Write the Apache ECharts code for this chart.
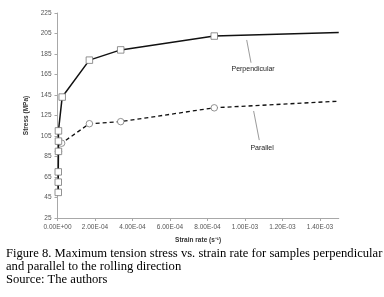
<!DOCTYPE html>
<html><head><meta charset="utf-8">
<script src="https://cdn.jsdelivr.net/npm/echarts@6/dist/echarts.min.js"></script>
<style>html,body{margin:0;padding:0;background:#fff}#c{width:384px;height:297px}</style>
</head><body><div id="c"></div>
<script>
// Data
const perpX = [0.000004, 0.000004, 0.000004, 0.000005, 0.000005, 0.000005, 0.000025, 0.000170, 0.000337, 0.000836, 0.0015];
const perpY = [50, 60, 70, 90, 100, 110, 143, 179, 189, 202.5, 206];
const perpMarked = [true, true, true, true, true, true, true, true, true, true, false];
const paraX = [0.000005, 0.000022, 0.000170, 0.000337, 0.000836, 0.0015];
const paraY = [90, 98, 117, 119, 132.5, 139];
const paraMarked = [true, true, true, true, true, false];
const yTicks = {min: 25, max: 225, interval: 20};
const xTicks = {min: 0, max: 0.0015, interval: 0.0002};
const labelPerp = {text: 'Perpendicular', at: [0.001043, 170.4], tail: [0.001032, 176.5], tip: [0.001009, 198.7]};
const labelPara = {text: 'Parallel', at: [0.001091, 93.3], tail: [0.001076, 101], tip: [0.001046, 129.4]};
const captionLines = ['Figure 8. Maximum tension stress vs. strain rate for samples perpendicular', 'and parallel to the rolling direction', 'Source: The authors'];

function fmtE(v) {
  let s = Number(v).toExponential(2).toUpperCase();
  let m = s.match(/^(.*)E([+-])(\d+)$/);
  if (!m) return s;
  return m[1] + 'E' + m[2] + (m[3].length < 2 ? '0' + m[3] : m[3]);
}
function mk(xs, ys, flags) {
  return xs.map((x, i) => ({value: [x, ys[i]], symbolSize: flags[i] ? 6.5 : 0}));
}
const chart = echarts.init(document.getElementById('c'), null, {renderer: 'canvas'});
const lblFont = {fontFamily: 'Liberation Sans', fontSize: 6.5, color: '#555'};
chart.setOption({
  animation: false,
  grid: {left: 57.5, right: 45.25, top: 13, bottom: 79, containLabel: false},
  xAxis: {
    type: 'value', min: xTicks.min, max: xTicks.max, interval: xTicks.interval,
    name: 'Strain rate (s\u207B\u00B9)', nameLocation: 'middle', nameGap: 19,
    nameTextStyle: {fontFamily: 'Liberation Sans', fontSize: 6.5, color: '#333', fontWeight: 'bold'},
    axisLine: {lineStyle: {color: '#a8a8a8', width: 1}},
    axisTick: {show: true, length: 3, lineStyle: {color: '#a8a8a8'}},
    axisLabel: Object.assign({formatter: fmtE, margin: 6}, lblFont),
    splitLine: {show: false}
  },
  yAxis: {
    type: 'value', min: yTicks.min, max: yTicks.max, interval: yTicks.interval,
    name: 'Stress (MPa)', nameLocation: 'middle', nameGap: 18, nameRotate: 90,
    nameTextStyle: {fontFamily: 'Liberation Sans', fontSize: 6.5, color: '#333', fontWeight: 'bold'},
    axisLine: {show: true, lineStyle: {color: '#a8a8a8', width: 1}},
    axisTick: {show: true, length: 3, lineStyle: {color: '#a8a8a8'}},
    axisLabel: Object.assign({margin: 6}, lblFont),
    splitLine: {show: false}
  },
  series: [
    {
      type: 'line', data: mk(perpX, perpY, perpMarked), symbol: 'rect', showAllSymbol: true,
      lineStyle: {color: '#111', width: 1.5, type: 'solid'},
      itemStyle: {color: '#fff', borderColor: '#777', borderWidth: 0.8},
      z: 3,
      markLine: {
        silent: true, symbol: ['none', 'arrow'], symbolSize: [0, 4],
        lineStyle: {color: '#555', width: 0.6, type: 'solid'}, label: {show: false},
        data: [[{coord: labelPerp.tail}, {coord: labelPerp.tip}]]
      },
      markPoint: {
        silent: true, symbol: 'circle', symbolSize: 0,
        label: {show: true, position: 'inside', formatter: labelPerp.text, fontFamily: 'Liberation Sans', fontSize: 7, color: '#222'},
        data: [{coord: labelPerp.at}]
      }
    },
    {
      type: 'line', data: mk(paraX, paraY, paraMarked), symbol: 'circle', showAllSymbol: true,
      lineStyle: {color: '#111', width: 1.3, type: [4, 3]},
      itemStyle: {color: '#fff', borderColor: '#777', borderWidth: 0.8},
      z: 2,
      markLine: {
        silent: true, symbol: ['none', 'arrow'], symbolSize: [0, 4],
        lineStyle: {color: '#555', width: 0.6, type: 'solid'}, label: {show: false},
        data: [[{coord: labelPara.tail}, {coord: labelPara.tip}]]
      },
      markPoint: {
        silent: true, symbol: 'circle', symbolSize: 0,
        label: {show: true, position: 'inside', formatter: labelPara.text, fontFamily: 'Liberation Sans', fontSize: 7, color: '#222'},
        data: [{coord: labelPara.at}]
      }
    }
  ],
  graphic: captionLines.map((t, i) => ({
    type: 'text', left: 6, top: 247 + i * 13,
    style: {text: t, fontFamily: 'Liberation Serif', fontSize: 12.6, fill: '#000'}
  }))
});
</script></body></html>
